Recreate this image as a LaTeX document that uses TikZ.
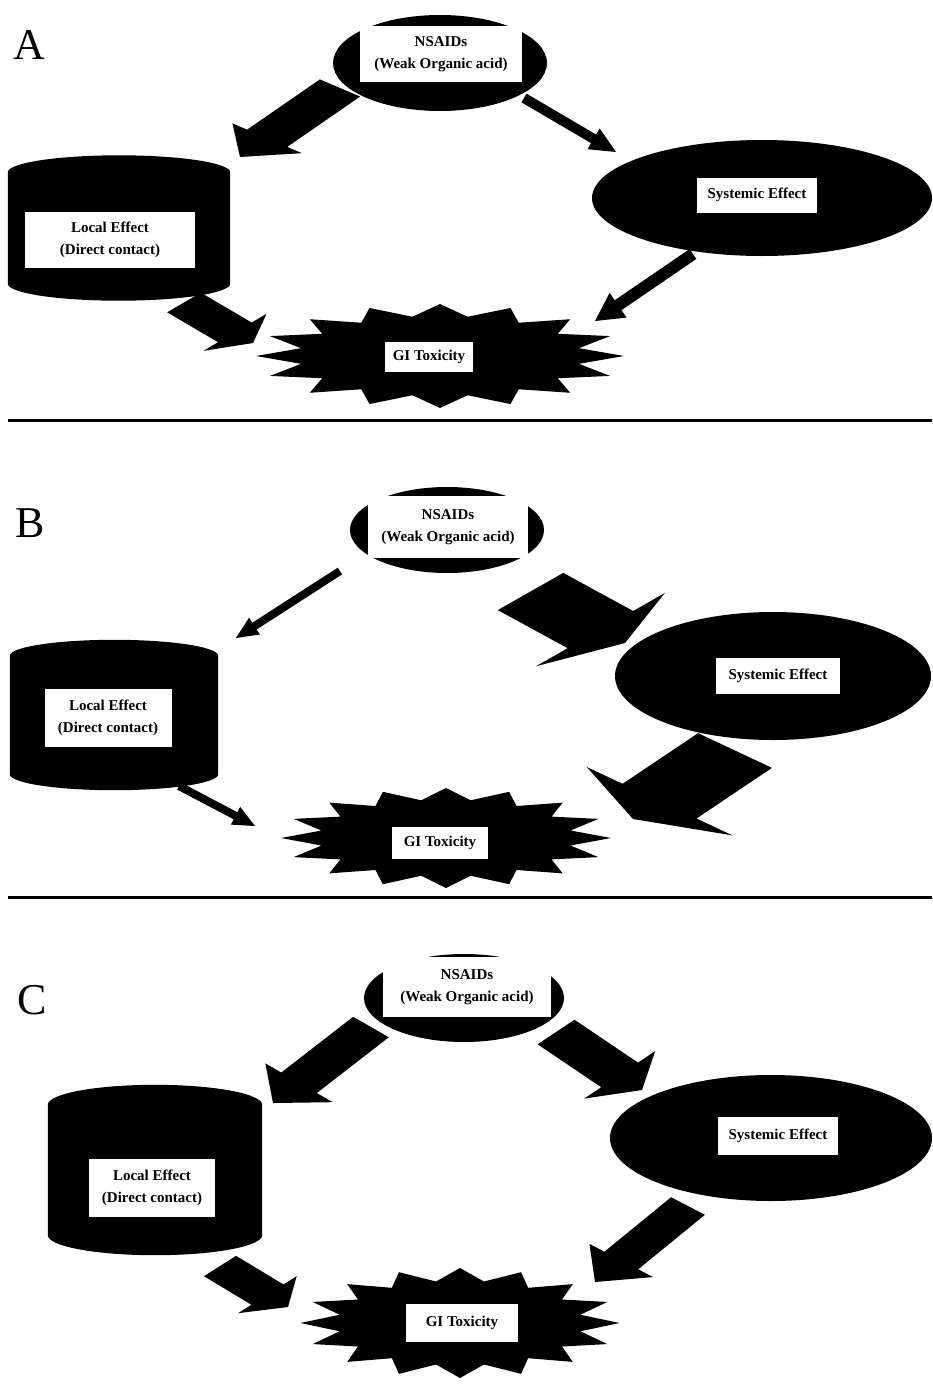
\documentclass[tikz,border=0pt]{standalone}
\usepackage{fontspec}
\setmainfont{Liberation Serif}
\usetikzlibrary{shapes.geometric, calc}

\tikzset{
  blob/.style={ellipse, fill=black, inner sep=0pt},
  barrelbox/.style={rectangle, inner sep=0pt},
  burst/.style={star, star points=16, star point ratio=1.3, fill=black, inner sep=0pt},
  tag/.style={fill=white, align=center, inner sep=0pt, font=\bfseries\fontsize{15}{22}\selectfont},
  panel/.style={font=\fontsize{44}{44}\selectfont},
  arrowfill/.style={fill=black},
  rule/.style={line width=3pt}
}

% block arrow: tail, tip, shaft width, head width, head length, skew
\newcommand{\blockarrow}[6]{%
  \pgfmathsetmacro\baA{atan(#6)}%
  \pgfmathsetlengthmacro\baS{0.5*#3pt/cos(\baA)}%
  \pgfmathsetlengthmacro\baH{0.5*#4pt/cos(\baA)}%
  \pgfmathsetmacro\baL{90-\baA}%
  \pgfmathsetmacro\baR{-90-\baA}%
  \coordinate (#1-#2) at ($(#2)!#5pt!(#1)$);
  \fill[arrowfill] ($(#1)!\baS!\baL:(#2)$) -- ($(#1-#2)!\baS!\baL:(#2)$)
    -- ($(#1-#2)!\baH!\baL:(#2)$) -- (#2) -- ($(#1-#2)!\baH!\baR:(#2)$)
    -- ($(#1-#2)!\baS!\baR:(#2)$) -- ($(#1)!\baS!\baR:(#2)$) -- cycle;
}

% barrel round a node: node, cap height
\newcommand{\barrel}[2]{%
  \fill let \p1=(#1.north west), \p2=(#1.south east) in
    (\x1,\y1-#2pt) arc[start angle=180, end angle=0, x radius={(\x2-\x1)/2}, y radius=#2pt]
    -- (\x2,\y2+#2pt) arc[start angle=0, end angle=-180, x radius={(\x2-\x1)/2}, y radius=#2pt]
    -- cycle;
}

\begin{document}
\begin{tikzpicture}[x=1pt, y=-1pt]
  \useasboundingbox (0,0) rectangle (932,1384);

  % Panel A
  \node[panel] (labA) at (29,45) {A};
  \node[blob, minimum width=214pt, minimum height=96pt] (nsaidA) at (440,63) {};
  \node[barrelbox, minimum width=222pt, minimum height=145pt] (localA) at (119,228) {};
  \barrel{localA}{17}
  \node[blob, minimum width=340pt, minimum height=116pt] (sysA) at (762,198) {};
  \node[burst, minimum size=104pt, xscale=3.54] (giA) at (440,356) {};
  \node[tag, minimum width=162pt, minimum height=56pt] (nsaidAbox) at (441,54) {NSAIDs\\(Weak Organic acid)};
  \node[tag, minimum width=170pt, minimum height=56pt] (localAbox) at (110,240) {Local Effect\\(Direct contact)};
  \node[tag, minimum width=120pt, minimum height=35pt] (sysAbox) at (757,195) {Systemic Effect};
  \node[tag, minimum width=88pt, minimum height=30pt] (giAbox) at (429,357) {GI Toxicity};

  \coordinate (a1s) at (340,88);    \coordinate (a1e) at (240,157);
  \coordinate (a2s) at (524,98);    \coordinate (a2e) at (616,152);
  \coordinate (a3s) at (184,302.5); \coordinate (a3e) at (253,343);
  \coordinate (a4s) at (693,254);   \coordinate (a4e) at (595,321);
  \blockarrow{a1s}{a1e}{37}{64}{33}{-0.63}
  \blockarrow{a2s}{a2e}{10}{24}{26}{0}
  \blockarrow{a3s}{a3e}{34}{64}{21}{0.56}
  \blockarrow{a4s}{a4e}{12}{30}{28}{0}

  \coordinate (sepA1) at (8,420); \coordinate (sepA2) at (932,420);
  \draw[rule] (sepA1) -- (sepA2);

  % Panel B
  \node[panel] (labB) at (30,523) {B};
  \node[blob, minimum width=194pt, minimum height=86pt] (nsaidB) at (447,530) {};
  \node[barrelbox, minimum width=208pt, minimum height=150pt] (localB) at (114,715) {};
  \barrel{localB}{16}
  \node[blob, minimum width=316pt, minimum height=128pt] (sysB) at (773,676) {};
  \node[burst, minimum size=100pt, xscale=3.3] (giB) at (446,838) {};
  \node[tag, minimum width=160pt, minimum height=62pt] (nsaidBbox) at (448,527) {NSAIDs\\(Weak Organic acid)};
  \node[tag, minimum width=127pt, minimum height=58pt] (localBbox) at (108,718) {Local Effect\\(Direct contact)};
  \node[tag, minimum width=124pt, minimum height=36pt] (sysBbox) at (778,676) {Systemic Effect};
  \node[tag, minimum width=96pt, minimum height=32pt] (giBbox) at (440,843) {GI Toxicity};

  \coordinate (b1s) at (340,571);     \coordinate (b1e) at (236,638);
  \coordinate (b2s) at (530.5,591.5); \coordinate (b2e) at (625,643);
  \coordinate (b3s) at (179,786);     \coordinate (b3e) at (255,826);
  \coordinate (b4s) at (735,750.5);   \coordinate (b4e) at (633,819);
  \blockarrow{b1s}{b1e}{8}{20}{22}{0}
  \blockarrow{b2s}{b2e}{64}{126}{28}{0.62}
  \blockarrow{b3s}{b3e}{8}{20}{22}{0}
  \blockarrow{b4s}{b4e}{70}{138}{32}{-0.6}

  \coordinate (sepB1) at (8,897); \coordinate (sepB2) at (932,897);
  \draw[rule] (sepB1) -- (sepB2);

  % Panel C
  \node[panel] (labC) at (32,1000) {C};
  \node[blob, minimum width=200pt, minimum height=88pt] (nsaidC) at (464,998) {};
  \node[barrelbox, minimum width=214pt, minimum height=170pt] (localC) at (155,1170) {};
  \barrel{localC}{20}
  \node[blob, minimum width=322pt, minimum height=126pt] (sysC) at (771,1138) {};
  \node[burst, minimum size=110pt, xscale=2.9] (giC) at (460,1323) {};
  \node[tag, minimum width=168pt, minimum height=60pt] (nsaidCbox) at (467,987) {NSAIDs\\(Weak Organic acid)};
  \node[tag, minimum width=126pt, minimum height=58pt] (localCbox) at (152,1188) {Local Effect\\(Direct contact)};
  \node[tag, minimum width=120pt, minimum height=38pt] (sysCbox) at (778,1136) {Systemic Effect};
  \node[tag, minimum width=112pt, minimum height=38pt] (giCbox) at (462,1323) {GI Toxicity};

  \coordinate (c1s) at (371,1027); \coordinate (c1e) at (273,1103);
  \coordinate (c2s) at (556,1032); \coordinate (c2e) at (642,1090);
  \coordinate (c3s) at (220,1266); \coordinate (c3e) at (288,1307);
  \coordinate (c4s) at (688,1206); \coordinate (c4e) at (595,1282);
  \blockarrow{c1s}{c1e}{38}{72}{33}{-0.41}
  \blockarrow{c2s}{c2e}{41}{79}{27}{0.41}
  \blockarrow{c3s}{c3e}{34}{62}{24}{0.5}
  \blockarrow{c4s}{c4e}{35}{66}{34}{-0.43}
\end{tikzpicture}
\end{document}
